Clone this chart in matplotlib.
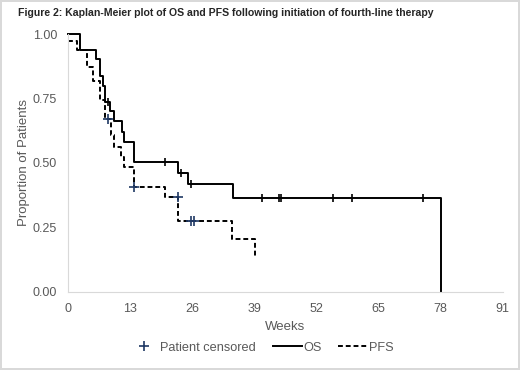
import numpy as np
import matplotlib.pyplot as plt
from matplotlib.lines import Line2D

plt.rcParams['font.family'] = ['Liberation Sans', 'DejaVu Sans']

# Kaplan-Meier step data (weeks, proportion)
os_weeks = [0, 2.5, 5.9, 6.7, 7.3, 7.7, 8.8, 9.5, 11.2, 11.6, 13.7, 23.1, 25.0, 34.6, 78.0]
os_surv = [1.0, 0.938, 0.905, 0.838, 0.80, 0.737, 0.70, 0.664, 0.622, 0.583, 0.505, 0.463, 0.417, 0.363, 0.0]
os_censored = [8.3, 20.3, 23.6, 25.7, 40.5, 44.2, 44.6, 55.4, 59.5, 74.2]

pfs_weeks = [0, 1.8, 3.9, 5.2, 6.6, 7.8, 9.0, 9.5, 11.0, 11.6, 13.7, 20.3, 23.1, 34.4, 39.1]
pfs_surv = [0.974, 0.94, 0.874, 0.816, 0.744, 0.669, 0.608, 0.563, 0.524, 0.486, 0.408, 0.367, 0.275, 0.204, 0.133]
pfs_censored = [8.3, 13.7, 22.9, 25.7, 26.4]

x_ticks = [0, 13, 26, 39, 52, 65, 78, 91]
y_ticks = [0.0, 0.25, 0.5, 0.75, 1.0]

grey = '#595959'
censor_blue = '#1f3864'


def surv_at(times, surv, t):
    # value of the step function just after time t
    idx = np.searchsorted(times, t, side='right') - 1
    return surv[idx]


fig = plt.figure(figsize=(5.2, 3.7), dpi=100)
fig.patch.set_edgecolor('#d9d9d9')
fig.patch.set_linewidth(1.5)
ax = fig.add_axes([0.131, 0.211, 0.836, 0.697])

ax.step(os_weeks, os_surv, where='post', color='black', lw=1.4, clip_on=False)
ax.step(pfs_weeks, pfs_surv, where='post', color='black', lw=1.4, ls=(0, (2.5, 1.5)), clip_on=False)

os_c = [surv_at(os_weeks, os_surv, t) for t in os_censored]
ax.plot(os_censored, os_c, ls='none', marker='|', ms=6, mew=1.2, color='black', clip_on=False)
pfs_c = [surv_at(pfs_weeks, pfs_surv, t) for t in pfs_censored]
ax.plot(pfs_censored, pfs_c, ls='none', marker='+', ms=7, mew=1.2, color=censor_blue, clip_on=False)

ax.set_xlim(0, 91)
ax.set_ylim(0, 1.0)
ax.set_xticks(x_ticks)
ax.set_yticks(y_ticks)
ax.set_yticklabels(['%.2f' % v for v in y_ticks])
ax.tick_params(length=0, labelsize=9, colors=grey, pad=8)
for s in ['top', 'right']:
    ax.spines[s].set_visible(False)
for s in ['left', 'bottom']:
    ax.spines[s].set_color('#d9d9d9')
ax.set_xlabel('Weeks', fontsize=9.5, color=grey, labelpad=4)
ax.set_ylabel('Proportion of Patients', fontsize=9.5, color=grey, labelpad=2)

fig.text(0.034, 0.965, 'Figure 2: Kaplan-Meier plot of OS and PFS following initiation of fourth-line therapy',
         fontsize=7.6, fontweight='bold', color='#262626', va='center')

handles = [Line2D([], [], ls='none', marker='+', ms=7, mew=1.2, color=censor_blue),
           Line2D([], [], color='black', lw=1.4),
           Line2D([], [], color='black', lw=1.4, ls=(0, (2.5, 1.5)))]
fig.legend(handles, ['Patient censored', 'OS', 'PFS'], loc='center', bbox_to_anchor=(0.503, 0.06),
           ncol=3, frameon=False, fontsize=9.2, labelcolor=grey, handlelength=2.3,
           handletextpad=0.1, columnspacing=1.3)

fig.savefig('out.png', dpi=100, edgecolor=fig.get_edgecolor())
